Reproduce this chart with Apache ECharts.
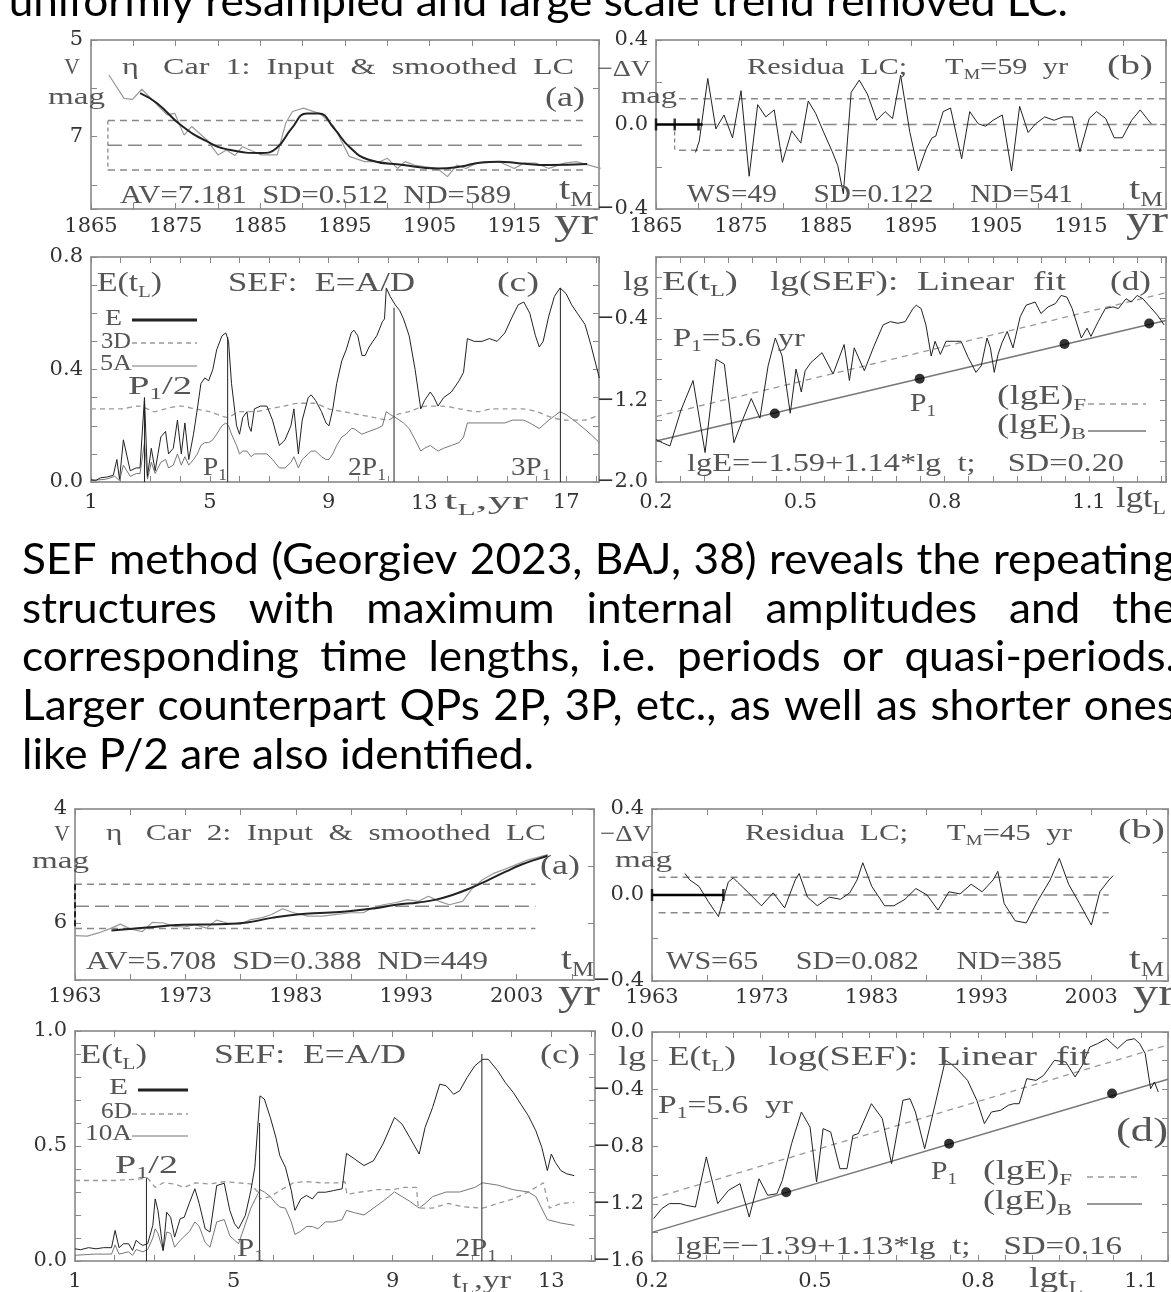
<!DOCTYPE html>
<html><head><meta charset="utf-8">
<script src="https://cdn.jsdelivr.net/npm/echarts@6/dist/echarts.min.js"></script>
<style>html,body{margin:0;padding:0;background:#fff;overflow:hidden}#c{width:1171px;height:1292px}</style>
</head><body><div id="c"></div>
<script>
// ================= DATA =================
// --- eta Car 1 (top block) ---
const car1RawLC = [[1867.1,5.72],[1868.9,6.21],[1869.9,6.23],[1871.0,6.02],[1872.8,6.34],[1874.0,6.55],[1874.9,6.52],[1876.0,6.97],[1876.9,6.79],[1878.7,7.07],[1880.0,7.38],[1881.0,7.28],[1882.0,7.39],[1882.9,7.21],[1884.2,7.31],[1885.1,7.38],[1887.0,7.38],[1888.0,6.72],[1888.8,6.48],[1890.1,6.41],[1892.1,6.53],[1893.7,6.79],[1895.5,7.41],[1897.3,7.52],[1899.1,7.52],[1900.0,7.45],[1901.2,7.66],[1902.1,7.52],[1903.2,7.59],[1904.3,7.62],[1905.9,7.66],[1907.1,7.83],[1908.2,7.59],[1909.3,7.66],[1910.5,7.55],[1911.6,7.52],[1913.2,7.52],[1915.0,7.66],[1916.1,7.55],[1917.5,7.55],[1919.1,7.66],[1920.9,7.55],[1922.3,7.52],[1923.8,7.59],[1925.2,7.66]];
const car1SmoothLC = [[1870.8,6.10],[1872.8,6.31],[1875.6,6.76],[1878.7,7.10],[1881.5,7.28],[1885.1,7.34],[1886.9,7.24],[1888.7,6.83],[1890.5,6.52],[1891.9,6.52],[1893.7,6.83],[1895.5,7.21],[1897.8,7.48],[1901.9,7.59],[1905.9,7.66],[1908.7,7.62],[1910.9,7.54],[1913.2,7.52],[1915.5,7.55],[1919.1,7.59],[1923.6,7.57]];
const car1LcLevels = [6.669, 7.181, 7.693];
const car1LcLevelSpan = [1867, 1923.5];
const car1ResidLC = [[1869.65,-0.132],[1870.09,-0.079],[1871.09,0.218],[1872.04,-0.021],[1873.0,0.045],[1874.0,-0.063],[1875.0,0.160],[1875.96,-0.245],[1876.96,0.094],[1877.91,0.036],[1878.91,0.069],[1879.87,-0.179],[1880.96,-0.030],[1882.04,-0.088],[1882.91,0.111],[1883.78,0.053],[1884.65,-0.030],[1885.74,-0.129],[1886.39,-0.195],[1887.04,-0.328],[1887.96,0.152],[1888.91,0.210],[1889.87,0.144],[1890.96,0.020],[1891.96,0.061],[1892.83,0.028],[1893.78,0.233],[1894.87,-0.038],[1895.87,-0.220],[1896.83,-0.112],[1897.48,-0.063],[1897.91,-0.055],[1898.78,0.061],[1899.65,0.078],[1900.96,-0.162],[1901.91,0.061],[1902.91,0.003],[1903.78,-0.008],[1904.65,0.020],[1905.74,0.045],[1906.83,-0.220],[1907.78,0.086],[1908.78,-0.038],[1909.65,0.003],[1910.74,0.036],[1911.83,0.020],[1912.91,0.036],[1914.0,0.036],[1914.87,-0.129],[1915.96,0.028],[1916.83,0.061],[1917.91,0.028],[1918.91,-0.063],[1919.87,-0.063],[1920.96,0.020],[1921.96,0.069],[1923.26,0.003]];
const car1ResLevels = [-0.122, 0.122];
const car1ResBandSpan = [1867.7, 1925];
const car1ZeroSpan = [1870.5, 1925];
const car1Window = [1865, 1870.5];
const car1WindowTicks = [1865, 1867.2, 1870.0];
const car1E = [[1.00,0.008],[1.17,0.006],[1.32,0.015],[1.55,0.018],[1.75,0.024],[1.87,0.08],[1.96,0.01],[2.09,0.15],[2.32,0.04],[2.52,0.05],[2.65,0.05],[2.80,0.30],[2.90,0.02],[3.03,0.12],[3.16,0.04],[3.35,0.16],[3.51,0.18],[3.61,0.10],[3.77,0.12],[3.91,0.22],[4.04,0.10],[4.16,0.21],[4.29,0.08],[4.45,0.17],[4.58,0.26],[4.70,0.35],[4.83,0.37],[4.96,0.36],[5.10,0.40],[5.23,0.47],[5.41,0.52],[5.54,0.53],[5.63,0.50],[5.73,0.35],[5.90,0.20],[6.00,0.17],[6.11,0.23],[6.25,0.25],[6.31,0.20],[6.39,0.18],[6.50,0.26],[6.70,0.27],[6.92,0.27],[7.11,0.22],[7.34,0.13],[7.53,0.15],[7.73,0.20],[7.83,0.26],[7.98,0.10],[8.11,0.22],[8.31,0.30],[8.41,0.31],[8.56,0.29],[8.76,0.25],[8.91,0.21],[9.01,0.20],[9.14,0.26],[9.27,0.35],[9.44,0.43],[9.59,0.47],[9.76,0.53],[9.85,0.54],[9.98,0.52],[10.12,0.45],[10.23,0.45],[10.36,0.48],[10.62,0.52],[10.81,0.57],[10.88,0.58],[10.94,0.69],[11.07,0.66],[11.24,0.63],[11.39,0.61],[11.52,0.58],[11.71,0.52],[11.91,0.40],[12.10,0.26],[12.23,0.29],[12.42,0.32],[12.55,0.30],[12.68,0.27],[12.87,0.30],[13.13,0.32],[13.39,0.36],[13.54,0.39],[13.67,0.51],[13.90,0.50],[14.16,0.50],[14.41,0.51],[14.67,0.50],[14.93,0.53],[15.19,0.59],[15.38,0.63],[15.57,0.64],[15.77,0.60],[15.96,0.52],[16.09,0.48],[16.22,0.50],[16.41,0.59],[16.60,0.66],[16.79,0.69],[16.99,0.67],[17.18,0.63],[17.37,0.60],[17.63,0.56],[17.82,0.49],[17.99,0.42],[18.11,0.37]];
const car1D3 = [[1.0,0.26],[1.5,0.26],[2.0,0.26],[2.6,0.27],[2.9,0.26],[3.1,0.25],[3.5,0.26],[4.0,0.27],[4.5,0.26],[5.0,0.25],[5.6,0.23],[6.0,0.25],[6.5,0.25],[7.0,0.26],[7.5,0.27],[8.0,0.28],[8.5,0.28],[9.0,0.26],[9.5,0.25],[10.0,0.24],[10.5,0.23],[11.0,0.22],[11.3,0.24],[11.7,0.25],[12.3,0.27],[12.8,0.27],[13.4,0.26],[14.0,0.25],[14.5,0.26],[15.0,0.26],[15.5,0.26],[16.0,0.25],[16.5,0.23],[17.0,0.22],[17.6,0.22],[18.1,0.24]];
const car1A5 = [[1.0,0.005],[1.5,0.01],[1.8,0.02],[1.96,0.005],[2.09,0.06],[2.32,0.02],[2.52,0.03],[2.65,0.03],[2.80,0.14],[2.90,0.01],[3.03,0.07],[3.16,0.03],[3.35,0.07],[3.51,0.08],[3.61,0.05],[3.77,0.06],[3.91,0.10],[4.04,0.06],[4.16,0.09],[4.29,0.06],[4.45,0.08],[4.58,0.10],[4.70,0.13],[4.83,0.14],[4.96,0.14],[5.10,0.15],[5.23,0.17],[5.41,0.20],[5.54,0.21],[5.63,0.20],[5.73,0.17],[5.90,0.13],[6.00,0.10],[6.11,0.11],[6.25,0.11],[6.39,0.09],[6.50,0.10],[6.70,0.10],[6.92,0.10],[7.11,0.08],[7.34,0.05],[7.53,0.05],[7.73,0.07],[7.83,0.09],[7.98,0.05],[8.11,0.08],[8.31,0.10],[8.41,0.11],[8.56,0.11],[8.76,0.09],[8.91,0.08],[9.01,0.08],[9.14,0.10],[9.27,0.13],[9.44,0.16],[9.59,0.17],[9.76,0.19],[9.85,0.19],[9.98,0.18],[10.12,0.17],[10.36,0.18],[10.62,0.19],[10.81,0.20],[10.94,0.25],[11.07,0.24],[11.24,0.23],[11.52,0.21],[11.71,0.19],[11.91,0.15],[12.10,0.11],[12.23,0.12],[12.42,0.13],[12.68,0.11],[12.87,0.12],[13.13,0.13],[13.39,0.14],[13.54,0.16],[13.67,0.21],[14.16,0.21],[14.67,0.21],[14.93,0.21],[15.19,0.22],[15.57,0.22],[15.77,0.21],[16.09,0.19],[16.41,0.22],[16.79,0.25],[16.99,0.24],[17.37,0.21],[17.82,0.17],[18.11,0.14]];
const car1PeakT = [2.8, 5.6, 11.2, 16.8];
const car1PeakTop = [0.30, 0.515, 0.62, 0.69];
const car1LgE = [[0.200,-1.584],[0.213,-1.616],[0.229,-1.648],[0.252,-1.296],[0.277,-1.008],[0.302,-1.712],[0.325,-0.800],[0.342,-0.848],[0.362,-1.616],[0.380,-1.392],[0.398,-1.184],[0.416,-1.376],[0.433,-0.864],[0.448,-0.592],[0.462,-0.768],[0.479,-1.328],[0.491,-0.896],[0.502,-1.120],[0.510,-0.912],[0.522,-0.832],[0.545,-0.736],[0.568,-0.944],[0.591,-0.656],[0.602,-1.008],[0.612,-0.688],[0.633,-0.912],[0.653,-0.672],[0.672,-0.464],[0.687,-0.432],[0.703,-0.448],[0.718,-0.432],[0.734,-0.304],[0.741,-0.272],[0.751,-0.304],[0.761,-0.464],[0.772,-0.768],[0.780,-0.624],[0.791,-0.752],[0.803,-0.624],[0.822,-0.624],[0.834,-0.624],[0.849,-0.784],[0.865,-0.928],[0.876,-0.864],[0.888,-0.592],[0.895,-0.688],[0.903,-0.928],[0.911,-0.752],[0.919,-0.640],[0.930,-0.528],[0.942,-0.688],[0.957,-0.384],[0.969,-0.272],[0.988,-0.240],[1.000,-0.352],[1.015,-0.288],[1.030,-0.256],[1.042,-0.176],[1.054,-0.192],[1.065,-0.304],[1.084,-0.592],[1.096,-0.496],[1.104,-0.576],[1.119,-0.432],[1.134,-0.304],[1.150,-0.288],[1.161,-0.304],[1.177,-0.208],[1.188,-0.240],[1.200,-0.176],[1.212,-0.208],[1.227,-0.288],[1.242,-0.368],[1.256,-0.464]];
const car1FitF = [[0.2,-1.36],[1.26,-0.15]];
const car1FitB = [[0.2,-1.60],[1.26,-0.42]];
const car1Dots = [[0.447,-1.33],[0.748,-0.99],[1.049,-0.65],[1.225,-0.45]];

// --- eta Car 2 (bottom block) ---
const car2RawLC = [[1963.0,6.22],[1964.1,6.23],[1965.2,6.17],[1966.3,6.09],[1967.1,6.02],[1968.1,6.11],[1969.1,6.15],[1970.0,5.99],[1971.0,6.00],[1972.0,6.06],[1972.9,6.07],[1973.9,6.03],[1974.9,6.09],[1975.8,5.95],[1976.8,6.00],[1978.0,6.02],[1978.9,5.94],[1979.9,5.91],[1980.8,5.85],[1981.8,5.75],[1982.8,5.82],[1984.1,5.88],[1985.4,5.88],[1986.7,5.85],[1988.0,5.82],[1989.1,5.82],[1989.9,5.74],[1990.9,5.68],[1992.1,5.64],[1993.1,5.59],[1994.1,5.62],[1995.0,5.53],[1996.0,5.62],[1996.9,5.68],[1998.1,5.62],[1998.9,5.41],[1999.9,5.24],[2000.9,5.13],[2001.9,5.06],[2002.9,4.98],[2003.9,4.90],[2004.9,4.85],[2005.8,4.80]];
const car2SmoothLC = [[1966.3,6.13],[1969.5,6.08],[1972.8,6.03],[1976.0,6.02],[1978.6,5.99],[1980.8,5.91],[1983.1,5.85],[1985.7,5.82],[1988.0,5.79],[1990.2,5.74],[1992.1,5.68],[1994.1,5.64],[1995.7,5.59],[1997.3,5.50],[1998.9,5.38],[2000.5,5.24],[2002.0,5.10],[2003.5,4.97],[2005.0,4.87],[2005.8,4.82]];
const car2LcLevels = [5.320, 5.708, 6.096];
const car2LcLevelSpan = [1963, 2004.7];
const car2ResidLC = [[1966.0,0.10],[1966.44,0.07],[1967.28,0.04],[1968.12,-0.03],[1969.05,-0.10],[1969.95,0.06],[1970.4,0.08],[1970.79,0.06],[1971.8,0.01],[1972.97,-0.05],[1974.04,0.01],[1975.08,-0.06],[1976.05,0.07],[1976.4,0.10],[1977.16,-0.01],[1978.06,-0.05],[1979.17,-0.01],[1980.17,-0.02],[1981.01,0.01],[1981.68,0.07],[1982.2,0.15],[1983.02,0.04],[1984.19,-0.05],[1985.03,-0.05],[1986.04,-0.02],[1987.04,0.03],[1988.05,0.0],[1989.05,-0.07],[1990.05,0.015],[1991.06,0.005],[1992.07,0.05],[1993.07,0.015],[1994.07,0.07],[1994.5,0.11],[1995.08,-0.04],[1996.08,-0.12],[1997.09,-0.13],[1998.1,-0.03],[1999.27,0.07],[2000.1,0.17],[2000.95,0.05],[2001.95,-0.04],[2003.02,-0.14],[2003.79,0.015],[2004.63,0.07],[2005.0,0.09]];
const car2ResLevels = [-0.082, 0.082];
const car2ResBandSpan = [1963.6, 2004.6];
const car2ZeroSpan = [1969.5, 2004.6];
const car2Window = [1963, 1969.5];
const car2WindowTicks = [1963, 1969.5];
const car2E = [[1.00,0.053],[1.14,0.049],[1.34,0.058],[1.53,0.053],[1.72,0.058],[1.92,0.058],[2.01,0.133],[2.11,0.058],[2.22,0.075],[2.35,0.075],[2.45,0.046],[2.54,0.09],[2.64,0.075],[2.71,0.068],[2.83,0.075],[2.96,0.155],[3.02,0.27],[3.09,0.22],[3.22,0.046],[3.31,0.212],[3.41,0.19],[3.51,0.104],[3.65,0.184],[3.75,0.19],[3.89,0.256],[4.02,0.314],[4.13,0.249],[4.28,0.14],[4.40,0.126],[4.57,0.328],[4.76,0.338],[4.90,0.22],[5.02,0.162],[5.12,0.14],[5.29,0.198],[5.43,0.306],[5.53,0.408],[5.66,0.718],[5.77,0.704],[5.92,0.624],[6.06,0.538],[6.16,0.458],[6.30,0.408],[6.45,0.306],[6.54,0.22],[6.69,0.27],[6.83,0.285],[6.98,0.27],[7.12,0.299],[7.31,0.299],[7.51,0.306],[7.73,0.314],[7.84,0.468],[8.04,0.444],[8.28,0.415],[8.52,0.436],[8.76,0.509],[9.05,0.624],[9.24,0.595],[9.43,0.538],[9.67,0.465],[9.82,0.581],[10.01,0.668],[10.19,0.769],[10.35,0.762],[10.54,0.725],[10.69,0.74],[10.88,0.798],[11.07,0.848],[11.27,0.877],[11.41,0.877],[11.65,0.827],[11.84,0.776],[12.04,0.733],[12.23,0.682],[12.42,0.632],[12.61,0.566],[12.76,0.494],[12.90,0.393],[13.0,0.465],[13.10,0.429],[13.24,0.393],[13.39,0.379],[13.58,0.371]];
const car2D6 = [[1.0,0.35],[1.5,0.35],[2.0,0.35],[2.5,0.355],[2.83,0.36],[3.02,0.32],[3.22,0.34],[3.51,0.335],[3.75,0.32],[4.02,0.34],[4.4,0.335],[4.76,0.345],[5.12,0.34],[5.43,0.335],[5.6,0.30],[5.66,0.27],[5.92,0.28],[6.2,0.31],[6.5,0.34],[6.8,0.345],[7.2,0.34],[7.6,0.34],[7.8,0.345],[7.85,0.29],[8.2,0.30],[8.6,0.31],[9.0,0.31],[9.3,0.32],[9.6,0.32],[9.65,0.23],[10.0,0.23],[10.4,0.25],[10.8,0.235],[11.27,0.23],[11.65,0.25],[12.04,0.27],[12.42,0.30],[12.8,0.34],[12.95,0.23],[13.24,0.25],[13.58,0.255]];
const car2A10 = [[1.0,0.025],[1.5,0.03],[1.92,0.03],[2.01,0.07],[2.11,0.03],[2.35,0.04],[2.45,0.025],[2.54,0.05],[2.71,0.04],[2.83,0.05],[2.96,0.10],[3.02,0.14],[3.09,0.12],[3.22,0.045],[3.31,0.126],[3.41,0.12],[3.51,0.06],[3.65,0.09],[3.89,0.13],[4.02,0.17],[4.13,0.15],[4.28,0.08],[4.40,0.06],[4.57,0.17],[4.76,0.18],[4.90,0.11],[5.02,0.09],[5.12,0.075],[5.29,0.16],[5.43,0.23],[5.66,0.31],[5.77,0.30],[5.92,0.28],[6.06,0.25],[6.16,0.235],[6.30,0.23],[6.45,0.17],[6.54,0.115],[6.69,0.13],[6.83,0.15],[6.98,0.15],[7.12,0.14],[7.31,0.17],[7.51,0.17],[7.73,0.18],[7.84,0.22],[8.04,0.21],[8.28,0.20],[8.52,0.23],[8.76,0.26],[9.05,0.30],[9.24,0.28],[9.43,0.26],[9.67,0.23],[9.82,0.25],[10.01,0.28],[10.35,0.30],[10.69,0.30],[11.07,0.32],[11.27,0.34],[11.65,0.33],[12.04,0.31],[12.42,0.30],[12.61,0.28],[12.90,0.18],[13.24,0.165],[13.58,0.155]];
const car2PeakT = [2.8, 5.65, 11.25];
const car2PeakTop = [0.36, 0.60, 0.90];
const car2LgE = [[0.203,-1.304],[0.218,-1.234],[0.232,-1.199],[0.252,-1.199],[0.263,-1.211],[0.280,-1.223],[0.300,-0.873],[0.321,-1.199],[0.341,-1.106],[0.362,-1.060],[0.379,-1.293],[0.397,-1.025],[0.413,-1.141],[0.430,-1.130],[0.440,-1.036],[0.457,-0.780],[0.475,-0.559],[0.491,-0.664],[0.503,-1.048],[0.515,-0.675],[0.529,-0.699],[0.546,-0.955],[0.559,-0.955],[0.570,-0.722],[0.580,-0.710],[0.604,-0.501],[0.624,-0.605],[0.641,-0.920],[0.662,-0.477],[0.675,-0.466],[0.685,-0.559],[0.702,-0.815],[0.723,-0.477],[0.740,-0.198],[0.750,-0.221],[0.764,-0.268],[0.781,-0.338],[0.798,-0.477],[0.812,-0.640],[0.825,-0.559],[0.842,-0.547],[0.856,-0.512],[0.866,-0.501],[0.876,-0.501],[0.890,-0.326],[0.907,-0.338],[0.921,-0.303],[0.941,-0.198],[0.962,-0.210],[0.979,-0.314],[0.992,-0.233],[1.006,-0.105],[1.020,-0.082],[1.037,-0.047],[1.057,-0.116],[1.074,-0.058],[1.088,-0.047],[1.098,-0.082],[1.108,-0.151],[1.118,-0.396],[1.125,-0.349],[1.132,-0.419]];
const car2FitF = [[0.2,-1.164],[1.15,-0.09]];
const car2FitB = [[0.2,-1.40],[1.15,-0.33]];
const car2Dots = [[0.447,-1.12],[0.747,-0.78],[1.047,-0.43]];

// --- tick labels ---
const car1LcYLabels = [5, 7];
const car1YearLabels = [1865, 1875, 1885, 1895, 1905, 1915];
const resYLabels = [-0.4, 0.0, 0.4];
const car1SefYLabels = [0.0, 0.4, 0.8];
const car1SefXLabels = [1, 5, 9, 17];
const car1LgYLabels = [-2.0, -1.2, -0.4];
const lgXLabels = [0.2, 0.5, 0.8, 1.1];
const car2LcYLabels = [4, 6];
const car2YearLabels = [1963, 1973, 1983, 1993, 2003];
const car2SefYLabels = [0.0, 0.5, 1.0];
const car2SefXLabels = [1, 5, 9, 13];
const car2LgYLabels = [-1.6, -1.2, -0.8, -0.4, 0.0];

const paraLines = [
  "SEF method (Georgiev 2023, BAJ, 38) reveals the repeating",
  "structures with maximum internal amplitudes and the",
  "corresponding time lengths, i.e. periods or quasi-periods.",
  "Larger counterpart QPs 2P, 3P, etc., as well as shorter ones",
  "like P/2 are also identified."
];
const topLine = "uniformly resampled and large scale trend removed LC.";

// ================= LAYOUT =================
const grids = [
  {left:91, top:40, width:508, height:169},
  {left:656, top:40, width:510, height:169},
  {left:91, top:257, width:508, height:225},
  {left:656, top:257, width:510, height:225},
  {left:75, top:809, width:519, height:171},
  {left:652, top:809, width:516, height:172},
  {left:75, top:1031, width:520, height:230},
  {left:652, top:1032, width:516, height:229}
];
const axSpec = [
  {x:[1865,1925,5], xl:car1YearLabels, xd:0, xm:7, y:[5,8.5,1], yl:car1LcYLabels, yd:0, inv:true},
  {x:[1865,1925,5], xl:car1YearLabels, xd:0, xm:7, y:[-0.4,0.4,0.2], yl:resYLabels, yd:1},
  {x:[1,18.1,1], xl:car1SefXLabels, xd:0, xm:10, y:[0,0.8,0.1], yl:car1SefYLabels, yd:1},
  {x:[0.2,1.26,0.05], xl:lgXLabels, xd:1, xm:10, y:[-2.0,0.2,0.2], yl:car1LgYLabels, yd:1},
  {x:[1963,2010,5], xl:car2YearLabels, xd:0, xm:6, y:[4,7,1], yl:car2LcYLabels, yd:0, inv:true},
  {x:[1963,2010,5], xl:car2YearLabels, xd:0, xm:6, y:[-0.4,0.4,0.2], yl:resYLabels, yd:1},
  {x:[1,14.1,1], xl:car2SefXLabels, xd:0, xm:10, y:[0,1,0.1], yl:car2SefYLabels, yd:1},
  {x:[0.2,1.15,0.05], xl:lgXLabels, xd:1, xm:10, y:[-1.6,0,0.2], yl:car2LgYLabels, yd:1}
];
function fmtNum(v, d){ const s = Math.abs(v).toFixed(d); return (v < -1e-9 ? '\u2212' : '') + s; }
function labFmt(list, d){ return v => { const m = list.find(a => Math.abs(a - v) < 1e-6); return m === undefined ? '' : fmtNum(m, d); }; }
const X = [], Y = [];
const lineS = {show:true, onZero:false, lineStyle:{color:'#999', width:1.5}};
const tickS = {show:true, inside:true, length:6, lineStyle:{color:'#888', width:1}};
const labBase = {color:'#333', fontFamily:'DejaVu Serif', fontSize:21, showMinLabel:true, showMaxLabel:true};
axSpec.forEach((a, gi) => {
  const cx = {gridIndex:gi, type:'value', min:a.x[0], max:a.x[1], interval:a.x[2], splitLine:{show:false}, axisLine:lineS, axisTick:tickS};
  const cy = {gridIndex:gi, type:'value', min:a.y[0], max:a.y[1], interval:a.y[2], inverse:!!a.inv, splitLine:{show:false}, axisLine:lineS, axisTick:tickS};
  X[gi] = Object.assign({}, cx, {position:'bottom', axisLabel:Object.assign({}, labBase, {margin:a.xm, formatter:labFmt(a.xl, a.xd)})});
  X[gi+8] = Object.assign({}, cx, {position:'top', axisLabel:{show:false}});
  Y[gi] = Object.assign({}, cy, {position:'left', axisLabel:Object.assign({}, labBase, {margin:8, formatter:labFmt(a.yl, a.yd)})});
  Y[gi+8] = Object.assign({}, cy, {position:'right', axisLabel:{show:false}});
});

// ================= SERIES =================
const series = [];
function ln(gi, data, o){
  series.push({type:'line', xAxisIndex:gi, yAxisIndex:gi, data:data, symbol:'none', smooth:o.smooth || false,
    lineStyle:{color:o.c, width:o.w || 1, type:o.dash || 'solid'}, z:o.z || 3, silent:true, clip:true});
}
function hLines(gi, levels, span, o){ levels.forEach(l => ln(gi, [[span[0], l], [span[1], l]], o)); }
const DASH = [7,5], LDASH = [14,6];
// (a) car 1
hLines(0, [car1LcLevels[0], car1LcLevels[2]], car1LcLevelSpan, {c:'#888', w:1.5, dash:DASH, z:2});
hLines(0, [car1LcLevels[1]], car1LcLevelSpan, {c:'#888', w:1.5, dash:LDASH, z:2});
ln(0, [[car1LcLevelSpan[0], car1LcLevels[0]], [car1LcLevelSpan[0], car1LcLevels[2]]], {c:'#666', w:1, dash:[4,3], z:2});
ln(0, car1RawLC, {c:'#999', w:1.2});
ln(0, car1SmoothLC, {c:'#222', w:2, smooth:0.5, z:4});
// (b) car 1
hLines(1, car1ResLevels, car1ResBandSpan, {c:'#888', w:1.5, dash:DASH, z:2});
hLines(1, [0], car1ZeroSpan, {c:'#888', w:1.5, dash:LDASH, z:2});
ln(1, [[car1WindowTicks[1], 0], [car1WindowTicks[1], car1ResLevels[0]]], {c:'#666', w:1, dash:[4,3], z:2});
ln(1, car1Window.map(x => [x, 0]), {c:'#000', w:2.5, z:5});
series.push({type:'scatter', xAxisIndex:1, yAxisIndex:1, data:car1WindowTicks.map(x => [x, 0]), symbol:'rect', symbolSize:[2.5, 12], itemStyle:{color:'#000'}, silent:true, z:5});
ln(1, car1ResidLC, {c:'#222', w:1});
// (c) car 1
ln(2, car1D3, {c:'#999', w:1.3, dash:[5,4], smooth:0.3});
ln(2, car1A5, {c:'#777', w:1});
ln(2, car1E, {c:'#222', w:1, z:4});
car1PeakT.forEach((t, i) => ln(2, [[t, 0], [t, car1PeakTop[i]]], {c:'#222', w:1, z:4}));
// (d) car 1
ln(3, car1FitF, {c:'#999', w:1.3, dash:[6,5], z:2});
ln(3, car1FitB, {c:'#777', w:1.5, z:2});
ln(3, car1LgE, {c:'#222', w:1});
series.push({type:'scatter', xAxisIndex:3, yAxisIndex:3, data:car1Dots, symbolSize:10, itemStyle:{color:'#000'}, silent:true, z:6});
// (a) car 2
hLines(4, [car2LcLevels[0], car2LcLevels[2]], car2LcLevelSpan, {c:'#888', w:1.5, dash:DASH, z:2});
hLines(4, [car2LcLevels[1]], car2LcLevelSpan, {c:'#888', w:1.5, dash:LDASH, z:2});
ln(4, [[car2LcLevelSpan[0], car2LcLevels[0]], [car2LcLevelSpan[0], car2LcLevels[2]]], {c:'#222', w:2, dash:[6,3], z:5});
ln(4, car2RawLC, {c:'#999', w:1.2});
ln(4, car2SmoothLC, {c:'#222', w:2, smooth:0.5, z:4});
// (b) car 2
hLines(5, car2ResLevels, car2ResBandSpan, {c:'#888', w:1.5, dash:DASH, z:2});
hLines(5, [0], car2ZeroSpan, {c:'#888', w:1.5, dash:LDASH, z:2});
ln(5, car2Window.map(x => [x, 0]), {c:'#000', w:2.5, z:5});
series.push({type:'scatter', xAxisIndex:5, yAxisIndex:5, data:car2WindowTicks.map(x => [x, 0]), symbol:'rect', symbolSize:[2.5, 12], itemStyle:{color:'#000'}, silent:true, z:5});
ln(5, car2ResidLC, {c:'#222', w:1});
// (c) car 2
ln(6, car2D6, {c:'#999', w:1.3, dash:[5,4]});
ln(6, car2A10, {c:'#777', w:1});
ln(6, car2E, {c:'#222', w:1, z:4});
car2PeakT.forEach((t, i) => ln(6, [[t, 0], [t, car2PeakTop[i]]], {c:'#222', w:1, z:4}));
// (d) car 2
ln(7, car2FitF, {c:'#999', w:1.3, dash:[6,5], z:2});
ln(7, car2FitB, {c:'#777', w:1.5, z:2});
ln(7, car2LgE, {c:'#222', w:1});
series.push({type:'scatter', xAxisIndex:7, yAxisIndex:7, data:car2Dots, symbolSize:10, itemStyle:{color:'#000'}, silent:true, z:6});

// ================= TEXT =================
const gfx = [];
const mctx = document.createElement('canvas').getContext('2d');
function mw(s, f){ mctx.font = f; return mctx.measureText(s).width; }
const SERIF = '"Liberation Serif"';
function txt(x, y, parts, o){
  o = o || {};
  const size = o.size || 22, col = o.color || '#555';
  const fN = size + 'px ' + SERIF, fS = Math.round(size * 0.62) + 'px ' + SERIF;
  const segs = parts.map(p => typeof p === 'string' ? {t:p, s:false} : {t:p[0], s:true});
  let nat = 0; segs.forEach(g => { g.w = mw(g.t, g.s ? fS : fN); nat += g.w; });
  const sc = o.w ? o.w / nat : (o.sx || 1);
  let cx = x;
  if (o.align === 'right') cx = x - nat * sc;
  segs.forEach(g => {
    gfx.push({type:'text', x:cx, y:g.s ? y + size * 0.32 : y, scaleX:sc, silent:true, z:100,
      style:{text:g.t, font:(g.s ? fS : fN), fill:col, textAlign:'left', textVerticalAlign:'middle'}});
    cx += g.w * sc;
  });
}
function seg(x1, y1, x2, y2, c, w, dash){
  gfx.push({type:'line', silent:true, z:100, shape:{x1, y1, x2, y2}, style:{stroke:c, lineWidth:w, lineDash:dash || null}});
}
// --- (a) car 1
txt(64, 68, ['V'], {size:24, w:16});
txt(48, 98, ['mag'], {size:24, w:57});
txt(122, 68, ['\u03b7   Car  1:  Input  &  smoothed  LC'], {size:23, w:452});
txt(545, 99, ['(a)'], {size:28, w:40});
txt(120, 196, ['AV=7.181  SD=0.512  ND=589'], {size:26, w:391});
txt(559, 191, ['t', ['M']], {size:32, w:34});
txt(554, 224, ['yr'], {size:38, w:44});
// --- (b) car 1
txt(597, 70, ['\u2212\u0394V'], {size:24, w:54});
txt(621, 97, ['mag'], {size:24, w:56});
txt(747, 68, ['Residua  LC;     T', ['M'], '=59  yr'], {size:23, w:321});
txt(1107, 67, ['(b)'], {size:28, w:46});
txt(687, 195, ['WS=49     SD=0.122     ND=541'], {size:26, w:386});
txt(1129, 191, ['t', ['M']], {size:32, w:34});
txt(1126, 222, ['yr'], {size:38, w:42});
// --- (c) car 1
txt(97, 284, ['E(t', ['L'], ')'], {size:28, w:65});
txt(228, 284, ['SEF:  E=A/D'], {size:28, w:187});
txt(497, 284, ['(c)'], {size:28, w:42});
txt(122, 319, ['E'], {size:23, w:17, align:'right'});
txt(131, 342, ['3D'], {size:23, w:30, align:'right'});
txt(132, 364, ['5A'], {size:23, w:32, align:'right'});
seg(132, 320, 197, 320, '#222', 3);
seg(132, 343, 197, 343, '#999', 1.3, [5,4]);
seg(132, 366, 197, 366, '#777', 1.2);
txt(128, 387, ['P', ['1'], '/2'], {size:25, w:64});
txt(203, 468, ['P', ['1']], {size:25, w:24});
txt(348, 468, ['2P', ['1']], {size:25, w:38});
txt(511, 468, ['3P', ['1']], {size:25, w:40});
gfx.push({type:'text', x:411, y:504, silent:true, z:100, style:{text:'13', font:'21px "DejaVu Serif"', fill:'#333', textAlign:'left', textVerticalAlign:'middle'}});
txt(444, 502, ['t', ['L'], ',yr'], {size:26, w:84});
// --- (d) car 1
txt(623, 283, ['lg'], {size:28, w:26});
txt(662, 283, ['E(t', ['L'], ')'], {size:28, w:76});
txt(770, 283, ['lg(SEF):  Linear  fit'], {size:28, w:296});
txt(1110, 283, ['(d)'], {size:28, w:41});
txt(673, 339, ['P', ['1'], '=5.6  yr'], {size:25, w:132});
txt(910, 404, ['P', ['1']], {size:25, w:26});
txt(997, 397, ['(lgE)', ['F']], {size:28, w:89});
txt(997, 426, ['(lgE)', ['B']], {size:28, w:89});
seg(1088, 404, 1146, 404, '#999', 1.3, [6,5]);
seg(1088, 431, 1146, 431, '#777', 1.5);
txt(687, 464, ['lgE=\u22121.59+1.14*lg  t;    SD=0.20'], {size:26, w:437});
txt(1116, 499, ['lgt', ['L']], {size:30, w:50});
// --- (a) car 2
txt(54, 835, ['V'], {size:24, w:16});
txt(32, 862, ['mag'], {size:24, w:57});
txt(106, 834, ['\u03b7   Car  2:  Input  &  smoothed  LC'], {size:23, w:440});
txt(540, 867, ['(a)'], {size:28, w:40});
txt(86, 962, ['AV=5.708  SD=0.388  ND=449'], {size:26, w:402});
txt(561, 961, ['t', ['M']], {size:32, w:33});
txt(558, 995, ['yr'], {size:38, w:42});
// --- (b) car 2
txt(600, 835, ['\u2212\u0394V'], {size:24, w:52});
txt(615, 861, ['mag'], {size:24, w:57});
txt(745, 834, ['Residua  LC;     T', ['M'], '=45  yr'], {size:23, w:327});
txt(1118, 831, ['(b)'], {size:28, w:47});
txt(666, 962, ['WS=65     SD=0.082     ND=385'], {size:26, w:396});
txt(1129, 961, ['t', ['M']], {size:32, w:35});
txt(1133, 995, ['yr'], {size:38, w:42});
// --- (c) car 2
txt(80, 1056, ['E(t', ['L'], ')'], {size:28, w:67});
txt(214, 1056, ['SEF:  E=A/D'], {size:28, w:192});
txt(540, 1056, ['(c)'], {size:28, w:40});
txt(128, 1088, ['E'], {size:23, w:19, align:'right'});
txt(132, 1112, ['6D'], {size:23, w:31, align:'right'});
txt(132, 1134, ['10A'], {size:23, w:47, align:'right'});
seg(138, 1090, 188, 1090, '#222', 3);
seg(132, 1114, 188, 1114, '#999', 1.3, [5,4]);
seg(132, 1136, 188, 1136, '#777', 1.2);
txt(115, 1166, ['P', ['1'], '/2'], {size:25, w:63});
txt(237, 1249, ['P', ['1']], {size:25, w:27});
txt(455, 1249, ['2P', ['1']], {size:25, w:42});
txt(452, 1281, ['t', ['L'], ',yr'], {size:26, w:59});
// --- (d) car 2
txt(618, 1058, ['lg'], {size:28, w:28});
txt(668, 1058, ['E(t', ['L'], ')'], {size:28, w:68});
txt(768, 1058, ['log(SEF):  Linear  fit'], {size:28, w:322});
txt(658, 1106, ['P', ['1'], '=5.6  yr'], {size:25, w:135});
txt(1116, 1132, ['(d)'], {size:34, w:52});
txt(931, 1172, ['P', ['1']], {size:25, w:26});
txt(983, 1172, ['(lgE)', ['F']], {size:28, w:89});
txt(983, 1202, ['(lgE)', ['B']], {size:28, w:89});
seg(1087, 1177, 1142, 1177, '#999', 1.3, [6,5]);
seg(1087, 1204, 1142, 1204, '#777', 1.5);
txt(676, 1247, ['lgE=\u22121.39+1.13*lg  t;    SD=0.16'], {size:26, w:446});
txt(1029, 1279, ['lgt', ['L']], {size:30, w:54});

// --- paragraph text (justified) ---
const PF = '43px Lato';
const pScale = 512 / mw(paraLines[4], PF);
const paraCenters = [560, 609, 657, 706, 755];
const PL = 22, PR = 1176;
paraLines.forEach((line, i) => {
  const y = paraCenters[i];
  if (i === paraLines.length - 1) {
    gfx.push({type:'text', x:PL, y, scaleX:pScale, silent:true, z:100, style:{text:line, font:PF, fill:'#000', textAlign:'left', textVerticalAlign:'middle'}});
    return;
  }
  const words = line.split(' ');
  const ws = words.map(w => mw(w, PF) * pScale);
  const tot = ws.reduce((a, b) => a + b, 0);
  const gap = (PR - PL - tot) / (words.length - 1);
  let x = PL;
  words.forEach((w, k) => {
    gfx.push({type:'text', x, y, scaleX:pScale, silent:true, z:100, style:{text:w, font:PF, fill:'#000', textAlign:'left', textVerticalAlign:'middle'}});
    x += ws[k] + gap;
  });
});
const topW = mw(topLine, PF) * pScale;
gfx.push({type:'text', x:1068 - topW, y:2, scaleX:pScale, silent:true, z:100, style:{text:topLine, font:PF, fill:'#000', textAlign:'left', textVerticalAlign:'middle'}});

// ================= CHART =================
const chart = echarts.init(document.getElementById('c'), null, {renderer:'canvas', width:1171, height:1292});
chart.setOption({
  animation:false,
  backgroundColor:'#ffffff',
  grid: grids.map(g => Object.assign({show:true, borderColor:'#999', borderWidth:1.5, containLabel:false}, g)),
  xAxis: X,
  yAxis: Y,
  series: series,
  graphic: {elements: gfx}
});
</script></body></html>
